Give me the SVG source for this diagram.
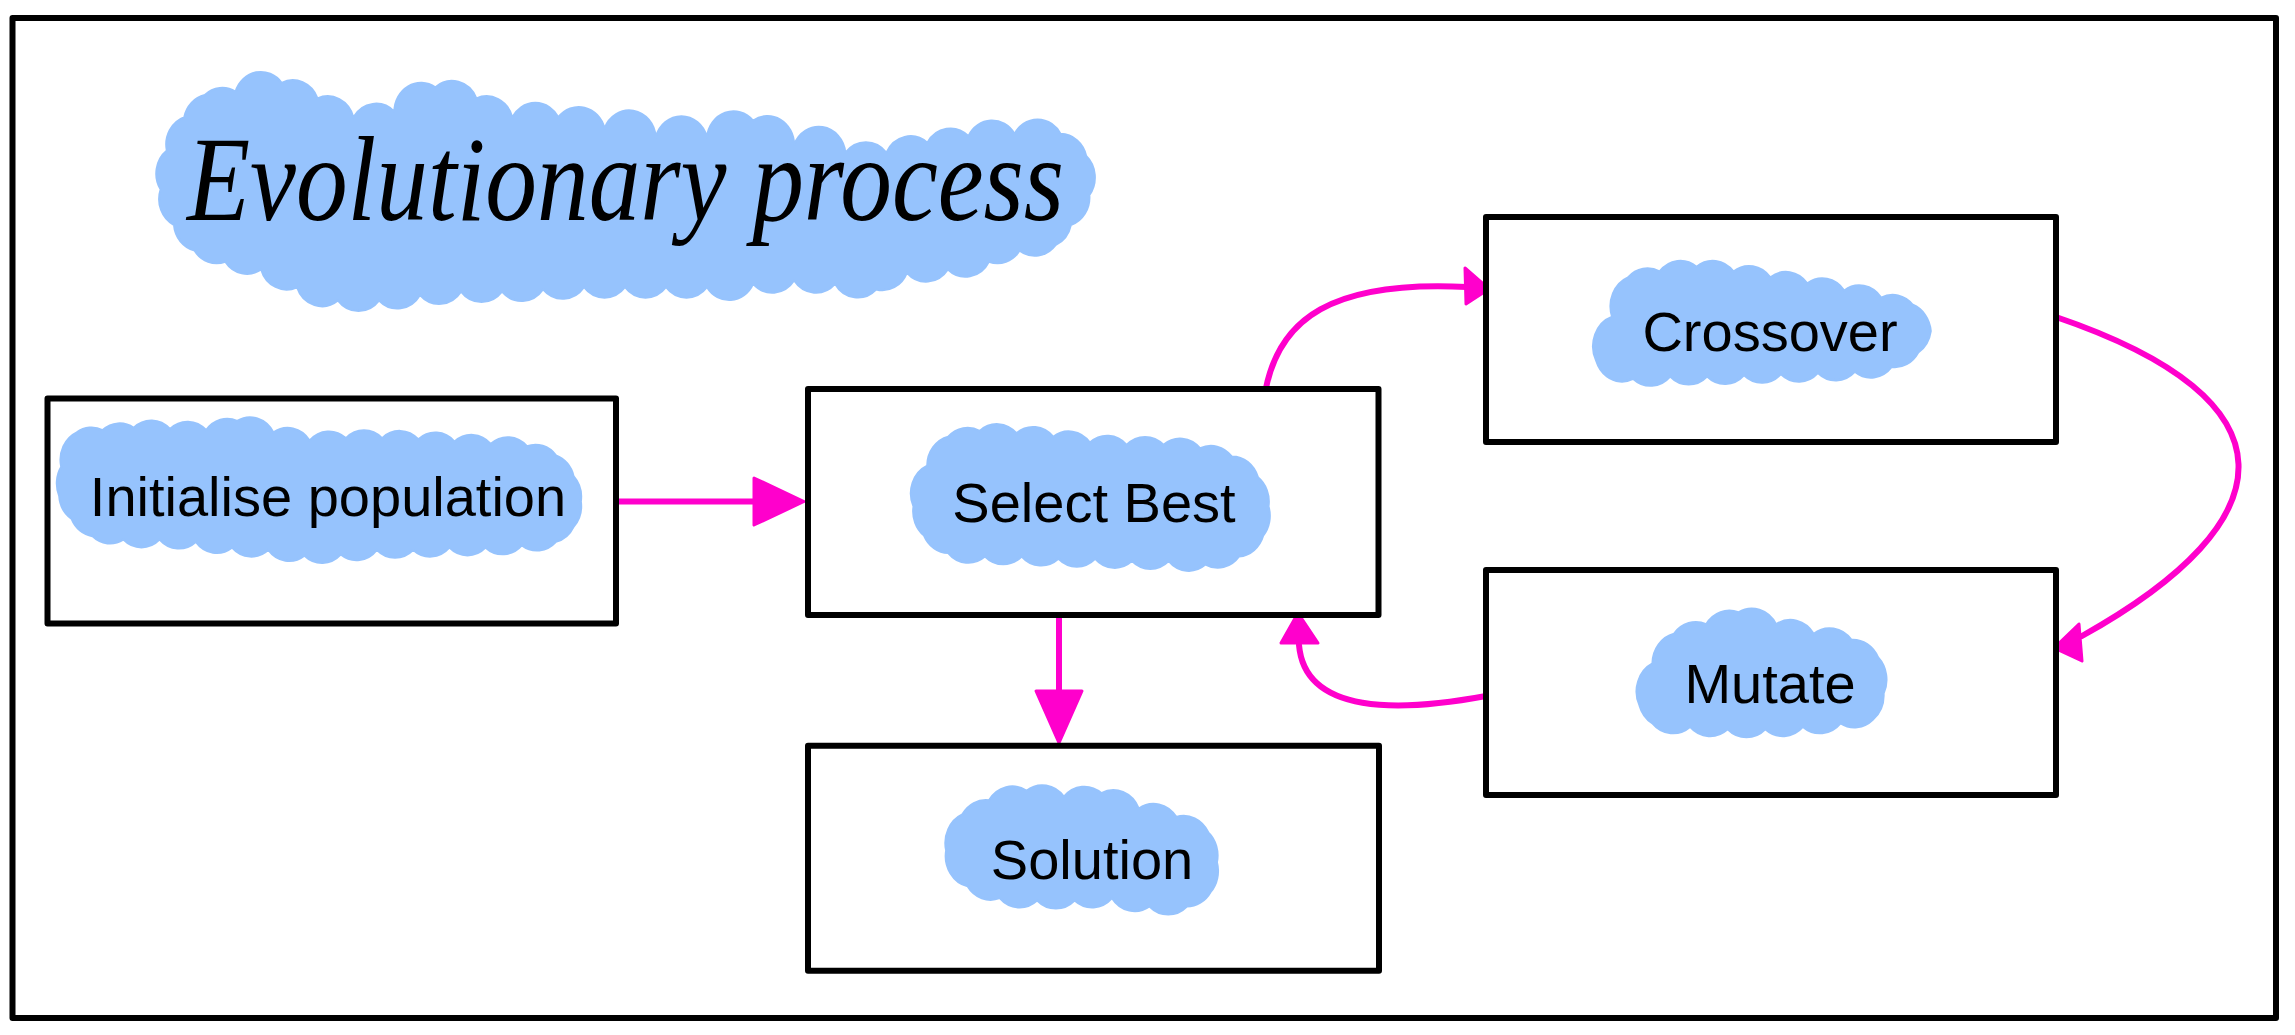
<svg xmlns="http://www.w3.org/2000/svg" width="2295" height="1035" viewBox="0 0 2295 1035">
<defs>
<style>
.box{fill:#fff;stroke:#000;stroke-width:6;stroke-linejoin:round}
.blob{fill:#96c3fd;stroke:#96c3fd;stroke-width:2;stroke-linejoin:round}
.lbl{font-family:"Liberation Sans",Arial,sans-serif;font-size:56px;fill:#000;text-anchor:middle}
.ttl{font-family:"Liberation Serif","Times New Roman",serif;font-style:italic;font-size:120px;fill:#000}
.con{fill:none;stroke:#ff00cc;stroke-width:6;stroke-linecap:round}
.head{fill:#ff00cc;stroke:#ff00cc;stroke-width:3;stroke-linejoin:round}
</style>
</defs>
<rect x="0" y="0" width="2295" height="1035" fill="#fff"/>
<rect id="frame" x="12.5" y="18" width="2263.5" height="1000" fill="none" stroke="#000" stroke-width="6" stroke-linejoin="round"/>

<g id="title">
<path class="blob" transform="translate(625,195) scale(1.025,1.11) translate(-625,-195)" d="M172,190 A26 26 0 0 1 178,155 A26 26 0 0 1 195,125 A26 26 0 0 1 215,105 A26 26 0 0 1 245,102 A26 26 0 0 1 290,94 A26 26 0 0 1 325,108 A26 26 0 0 1 360,125 A26 26 0 0 1 400,120 A26 26 0 0 1 440,98 A26 26 0 0 1 480,108 A26 26 0 0 1 515,125 A26 26 0 0 1 560,125 A26 26 0 0 1 605,135 A26 26 0 0 1 655,143 A26 26 0 0 1 705,143 A26 26 0 0 1 750,128 A26 26 0 0 1 790,150 A26 26 0 0 1 840,157 A26 26 0 0 1 880,157 A26 26 0 0 1 920,148 A26 26 0 0 1 960,142 A26 26 0 0 1 1005,140 A26 26 0 0 1 1050,140 A26 26 0 0 1 1075,160 A26 26 0 0 1 1078,195 A26 26 0 0 1 1060,222 A26 26 0 0 1 1045,240 A26 26 0 0 1 1010,245 A26 26 0 0 1 980,255 A26 26 0 0 1 940,262 A26 26 0 0 1 900,265 A26 26 0 0 1 870,280 A26 26 0 0 1 830,275 A26 26 0 0 1 790,272 A26 26 0 0 1 750,275 A26 26 0 0 1 705,278 A26 26 0 0 1 665,278 A26 26 0 0 1 625,278 A26 26 0 0 1 585,278 A26 26 0 0 1 545,280 A26 26 0 0 1 505,282 A26 26 0 0 1 465,282 A26 26 0 0 1 425,285 A26 26 0 0 1 385,290 A26 26 0 0 1 345,290 A26 26 0 0 1 305,278 A26 26 0 0 1 270,262 A26 26 0 0 1 235,255 A26 26 0 0 1 205,245 A26 26 0 0 1 185,222 A26 26 0 0 1 172,190 Z"/>
<text class="ttl" x="187" y="220" textLength="877" lengthAdjust="spacingAndGlyphs">Evolutionary process</text>
</g>

<g id="connectors">
<line class="con" x1="616" y1="501.5" x2="756" y2="501.5"/>
<polygon class="head" points="754,478 804,501.5 754,525"/>
<line class="con" x1="1059" y1="615" x2="1059" y2="693"/>
<polygon class="head" points="1036,691 1082,691 1059,743"/>
<path class="con" d="M1266,388 C1280,320 1330,280 1467,287"/>
<polygon class="head" points="1465,268 1489,289 1466,304"/>
<path class="con" d="M2056,317 C2300,400 2290,520 2082,636"/>
<polygon class="head" points="2079,624 2054,648 2082,661"/>
<path class="con" d="M1486,696 C1400,712 1305,715 1299,645"/>
<polygon class="head" points="1281,643 1298,613 1318,643"/>
</g>

<g id="node-init">
<rect class="box" x="47.5" y="398.5" width="568.5" height="225"/>
<path class="blob" transform="translate(320,490) scale(1.035,1.15) translate(-320,-490)" d="M70,470 A26 26 0 0 1 85,440 A26 26 0 0 1 110,438 A26 26 0 0 1 140,436 A26 26 0 0 1 175,437 A26 26 0 0 1 210,438 A26 26 0 0 1 240,430 A26 26 0 0 1 275,440 A26 26 0 0 1 310,447 A26 26 0 0 1 345,445 A26 26 0 0 1 380,445 A26 26 0 0 1 415,446 A26 26 0 0 1 450,448 A26 26 0 0 1 485,450 A26 26 0 0 1 520,452 A26 26 0 0 1 548,460 A26 26 0 0 1 565,478 A26 26 0 0 1 572,500 A26 26 0 0 1 565,522 A26 26 0 0 1 548,535 A26 26 0 0 1 515,538 A26 26 0 0 1 480,540 A26 26 0 0 1 445,540 A26 26 0 0 1 410,542 A26 26 0 0 1 375,542 A26 26 0 0 1 340,546 A26 26 0 0 1 305,547 A26 26 0 0 1 270,542 A26 26 0 0 1 235,540 A26 26 0 0 1 200,535 A26 26 0 0 1 165,533 A26 26 0 0 1 130,533 A26 26 0 0 1 100,530 A26 26 0 0 1 80,515 A26 26 0 0 1 68,495 A26 26 0 0 1 70,470 Z"/>
<text class="lbl" x="328" y="516">Initialise population</text>
</g>

<g id="node-select">
<rect class="box" x="808" y="389" width="570.5" height="226"/>
<path class="blob" transform="translate(1091,496) scale(1.05,1.16) translate(-1091,-496)" d="M922,505 A26 26 0 0 1 935,470 A26 26 0 0 1 955,445 A26 26 0 0 1 985,440 A26 26 0 0 1 1020,442 A26 26 0 0 1 1055,445 A26 26 0 0 1 1090,450 A26 26 0 0 1 1125,452 A26 26 0 0 1 1160,452 A26 26 0 0 1 1195,455 A26 26 0 0 1 1225,462 A26 26 0 0 1 1250,480 A26 26 0 0 1 1260,505 A26 26 0 0 1 1255,530 A26 26 0 0 1 1232,548 A26 26 0 0 1 1200,555 A26 26 0 0 1 1165,552 A26 26 0 0 1 1130,552 A26 26 0 0 1 1095,550 A26 26 0 0 1 1060,550 A26 26 0 0 1 1025,548 A26 26 0 0 1 990,548 A26 26 0 0 1 955,545 A26 26 0 0 1 932,530 A26 26 0 0 1 922,505 Z"/>
<text class="lbl" x="1094" y="522">Select Best</text>
</g>

<g id="node-solution">
<rect class="box" x="808" y="745.7" width="571" height="225"/>
<path class="blob" transform="translate(1081,848) scale(1.07,1.19) translate(-1081,-848)" d="M955,850 A26 26 0 0 1 970,820 A26 26 0 0 1 995,808 A26 26 0 0 1 1030,800 A26 26 0 0 1 1065,805 A26 26 0 0 1 1100,802 A26 26 0 0 1 1135,815 A26 26 0 0 1 1170,822 A26 26 0 0 1 1200,835 A26 26 0 0 1 1208,860 A26 26 0 0 1 1202,885 A26 26 0 0 1 1180,897 A26 26 0 0 1 1145,897 A26 26 0 0 1 1110,890 A26 26 0 0 1 1075,892 A26 26 0 0 1 1040,892 A26 26 0 0 1 1005,890 A26 26 0 0 1 975,880 A26 26 0 0 1 955,850 Z"/>
<text class="lbl" x="1092" y="879">Solution</text>
</g>

<g id="node-crossover">
<rect class="box" x="1486" y="217" width="570" height="225"/>
<path class="blob" transform="translate(1763,324) scale(1.055,1.19) translate(-1763,-324)" d="M1605,355 A26 26 0 0 1 1620,318 A26 26 0 0 1 1635,285 A26 26 0 0 1 1665,280 A26 26 0 0 1 1700,276 A26 26 0 0 1 1735,280 A26 26 0 0 1 1770,285 A26 26 0 0 1 1805,290 A26 26 0 0 1 1840,296 A26 26 0 0 1 1875,302 A26 26 0 0 1 1905,308 A26 26 0 0 1 1922,330 A26 26 0 0 1 1910,348 A26 26 0 0 1 1885,360 A26 26 0 0 1 1850,364 A26 26 0 0 1 1815,365 A26 26 0 0 1 1780,366 A26 26 0 0 1 1745,367 A26 26 0 0 1 1710,368 A26 26 0 0 1 1675,368 A26 26 0 0 1 1640,370 A26 26 0 0 1 1615,368 A26 26 0 0 1 1605,355 Z"/>
<text class="lbl" x="1770" y="351">Crossover</text>
</g>

<g id="node-mutate">
<rect class="box" x="1486" y="570" width="570" height="225"/>
<path class="blob" transform="translate(1761,672) scale(1.075,1.19) translate(-1761,-672)" d="M1648,700 A26 26 0 0 1 1660,665 A26 26 0 0 1 1680,640 A26 26 0 0 1 1710,632 A26 26 0 0 1 1740,622 A26 26 0 0 1 1775,632 A26 26 0 0 1 1810,640 A26 26 0 0 1 1845,645 A26 26 0 0 1 1870,660 A26 26 0 0 1 1875,690 A26 26 0 0 1 1865,712 A26 26 0 0 1 1835,715 A26 26 0 0 1 1800,718 A26 26 0 0 1 1765,720 A26 26 0 0 1 1730,720 A26 26 0 0 1 1695,718 A26 26 0 0 1 1660,715 A26 26 0 0 1 1648,700 Z"/>
<text class="lbl" x="1770" y="703">Mutate</text>
</g>
</svg>
